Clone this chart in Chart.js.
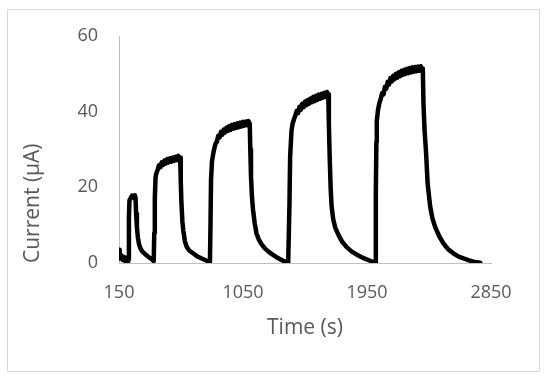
<!DOCTYPE html>
<html>
<head>
<meta charset="utf-8">
<script src="https://cdn.jsdelivr.net/npm/chart.js@4.4.0/dist/chart.umd.min.js"></script>
<style>
  html, body { margin: 0; padding: 0; background: #ffffff; }
  #wrap { width: 550px; height: 380px; }
</style>
</head>
<body>
<div id="wrap"><canvas id="c" width="550" height="380"></canvas></div>
<script>
// ---- data ----
const timeS = [
  150, 155, 160, 168, 176, 184, 192, 200, 208, 215, 219,
  222, 226, 235, 245, 255, 265, 270,
  274, 280, 287, 295, 305, 320, 338, 355, 370, 386, 395, 402,
  406, 410, 415, 420, 430, 440, 450, 460, 470, 480, 490, 500, 510, 520, 530, 540, 550, 560, 570, 580, 590, 594,
  598, 603, 610, 617, 628, 641, 660, 690, 720, 750, 775, 799, 810,
  814, 818, 825, 837, 850, 860, 870, 880, 890, 900, 910, 920, 930, 940, 950, 960, 970, 980, 990, 1000,
  1010, 1020, 1030, 1040, 1050, 1060, 1070, 1080, 1090, 1099,
  1103, 1108, 1115, 1123, 1135, 1148, 1165, 1184, 1210, 1235, 1257, 1290, 1320, 1341, 1360, 1378, 1383,
  1387, 1392, 1402, 1410, 1420, 1430, 1440, 1450, 1460, 1470, 1480, 1490, 1500, 1510, 1520, 1530, 1540,
  1550, 1560, 1570, 1580, 1590, 1600, 1610, 1620, 1630, 1640, 1650, 1660, 1669,
  1673, 1680, 1686, 1693, 1705, 1720, 1742, 1770, 1802, 1840, 1887, 1930, 1972, 2000, 2010,
  2014, 2018, 2021, 2030, 2040, 2050, 2060, 2070, 2080, 2090, 2100, 2110, 2120, 2130, 2140, 2150, 2160,
  2170, 2180, 2190, 2200, 2210, 2220, 2230, 2240, 2250, 2260, 2270, 2280, 2290, 2300, 2310, 2320, 2330,
  2340, 2350, 2355,
  2360, 2368, 2379, 2390, 2409, 2425, 2445, 2475, 2506, 2540, 2578, 2615, 2651, 2690, 2730, 2772
];
const currentUA = [
  3.5, 2.0, 1.2, 2.0, 0.8, 1.6, 0.6, 1.4, 0.5, 0.2, 1.0,
  12.0, 16.5, 17.2, 17.8, 17.3, 17.9, 17.2,
  13.0, 9.5, 6.8, 5.0, 3.9, 3.0, 2.4, 1.9, 1.4, 1.1, 0.7, 0.5,
  8.0, 17.0, 22.5, 23.6, 24.6, 25.8, 25.3, 26.6, 25.9, 27.1, 26.3, 27.5, 26.6, 27.7, 26.8, 27.9, 27.0, 28.1, 27.2, 28.3, 27.5, 27.9,
  22.0, 16.0, 11.0, 8.5, 5.8, 4.3, 3.3, 2.5, 1.7, 1.2, 0.8, 0.4, 0.2,
  10.0, 22.0, 27.0, 29.5, 31.5, 32.0, 33.6, 33.2, 34.7, 33.9, 35.3, 34.5, 35.8, 34.9, 36.2, 35.2, 36.5, 35.5, 36.7, 35.7,
  36.9, 35.9, 37.1, 36.1, 37.3, 36.3, 37.4, 36.4, 37.5, 36.8,
  30.0, 23.0, 17.5, 14.0, 10.5, 7.8, 6.2, 5.0, 3.8, 3.0, 2.4, 1.6, 1.0, 0.6, 0.3, 0.1, 0.1,
  15.0, 28.0, 35.0, 36.8, 38.0, 39.0, 40.2, 39.6, 41.3, 40.5, 42.1, 41.2, 42.7, 41.7, 43.1, 42.1, 43.5,
  42.5, 43.9, 42.8, 44.2, 43.1, 44.5, 43.4, 44.7, 43.7, 45.0, 43.9, 45.2, 44.6,
  37.0, 27.0, 20.0, 15.0, 11.5, 9.3, 7.5, 5.6, 4.2, 3.0, 2.0, 1.2, 0.6, 0.2, 0.1,
  18.0, 32.0, 37.5, 40.5, 42.3, 43.4, 44.9, 44.6, 46.6, 46.1, 47.9, 47.2, 48.9, 48.0, 49.5, 48.6, 50.0,
  49.0, 50.4, 49.4, 50.8, 49.7, 51.1, 50.0, 51.3, 50.2, 51.5, 50.4, 51.7, 50.6, 51.8, 50.7, 51.9, 50.8,
  52.0, 50.9, 51.4,
  42.0, 35.0, 29.0, 21.0, 14.8, 11.8, 9.5, 7.0, 5.1, 3.6, 2.5, 1.7, 1.2, 0.7, 0.3, 0.05
];
const xTicks = [150, 1050, 1950, 2850];
const yTicks = [0, 20, 40, 60];
const xTitle = 'Time (s)';
const yTitle = 'Current (μA)';

// ---- chart ----
const points = timeS.map((t, i) => ({ x: t, y: currentUA[i] }));
const textGray = '#595959';
const axisGray = '#bfbfbf';
const FONT = '"Open Sans", "Liberation Sans", sans-serif';

const frame = {
  id: 'frame',
  beforeDraw(chart) {
    const ctx = chart.ctx;
    ctx.save();
    ctx.fillStyle = '#ffffff';
    ctx.fillRect(0, 0, chart.width, chart.height);
    ctx.strokeStyle = '#d9d9d9';
    ctx.lineWidth = 1;
    ctx.strokeRect(7.5, 9.5, 532, 362);
    ctx.restore();
  }
};

new Chart(document.getElementById('c'), {
  type: 'line',
  data: {
    datasets: [{
      data: points,
      borderColor: '#000000',
      borderWidth: 4.5,
      pointRadius: 0,
      tension: 0,
      fill: false,
      borderJoinStyle: 'round',
      borderCapStyle: 'round'
    }]
  },
  options: {
    responsive: false,
    animation: false,
    events: [],
    layout: { padding: { top: 36, right: 59, bottom: 0, left: 0 } },
    plugins: { legend: { display: false }, tooltip: { enabled: false } },
    scales: {
      x: {
        type: 'linear',
        min: xTicks[0],
        max: xTicks[xTicks.length - 1],
        afterBuildTicks(scale) { scale.ticks = xTicks.map(v => ({ value: v })); },
        afterFit(scale) { scale.height = 117; },
        grid: { drawOnChartArea: false, drawTicks: false },
        border: { display: true, color: axisGray, width: 1 },
        ticks: {
          color: textGray, padding: 19, maxRotation: 0, autoSkip: false,
          font: { family: FONT, size: 18 },
          callback: v => String(v)
        },
        title: {
          display: true, text: xTitle, color: textGray,
          font: { family: FONT, size: 21 },
          padding: { top: 0, bottom: 39 }
        }
      },
      y: {
        type: 'linear',
        min: yTicks[0],
        max: yTicks[yTicks.length - 1],
        afterBuildTicks(scale) { scale.ticks = yTicks.map(v => ({ value: v })); },
        afterFit(scale) { scale.width = 119; },
        grid: { drawOnChartArea: false, drawTicks: false },
        border: { display: true, color: axisGray, width: 1 },
        ticks: {
          color: textGray, padding: 21,
          font: { family: FONT, size: 18 },
          callback: v => String(v)
        },
        title: {
          display: true, text: yTitle, color: textGray, align: 'start',
          font: { family: FONT, size: 21 },
          padding: { top: 20, bottom: 0 }
        }
      }
    }
  },
  plugins: [frame]
});
</script>
</body>
</html>
